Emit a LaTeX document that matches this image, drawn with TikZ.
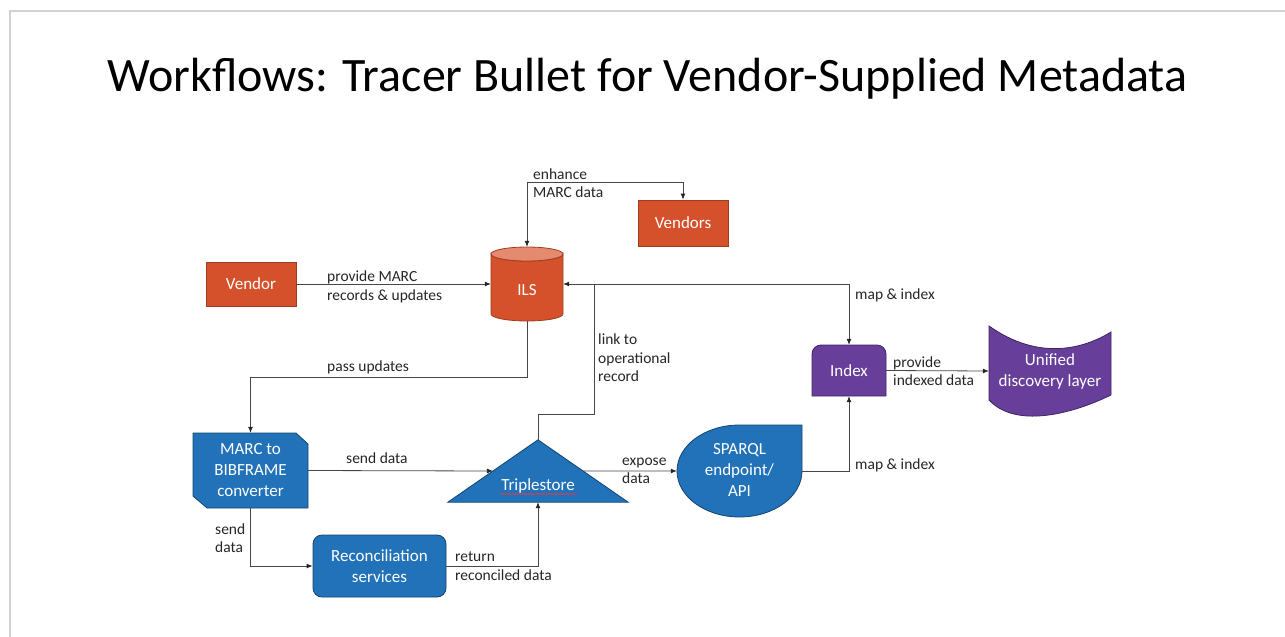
\documentclass[tikz,border=0pt]{standalone}
\usepackage{fontspec}
\setmainfont{Carlito}
\usetikzlibrary{arrows.meta,calc,decorations.pathmorphing}
\definecolor{ora}{RGB}{212,81,43}
\definecolor{oratop}{RGB}{228,138,110}
\definecolor{blu}{RGB}{34,114,185}
\definecolor{pur}{RGB}{104,62,155}
\definecolor{lbltxt}{RGB}{38,38,38}
\definecolor{lncol}{RGB}{70,70,70}
\newcommand\lblfont{\fontsize{15.5}{18.5}\selectfont}
\newcommand\boxfont{\fontsize{17}{21}\selectfont}
\tikzset{
  lbl/.style={font=\lblfont, text=lbltxt, align=left, inner sep=0pt, anchor=west},
  btxt/.style={font=\boxfont, text=white, align=center, inner sep=0pt},
  obox/.style={btxt, draw=ora!75!black, fill=ora, line width=0.8pt},
  shp/.style={line width=0.8pt},
  conn/.style={draw=lncol, line width=0.8pt},
  arr/.style={conn, -{Latex[length=6pt,width=5pt,color=black!85]}},
  darr/.style={conn, {Latex[length=6pt,width=5pt,color=black!85]}-{Latex[length=6pt,width=5pt,color=black!85]}},
}
\begin{document}
\begin{tikzpicture}[x=1pt,y=-1pt]
\useasboundingbox (0,0) rectangle (1285,637);
% slide frame
\draw[black!18, line width=1.5pt] (10,637) -- (10,11) -- (1285,11);
% title
\node[font=\fontsize{48}{57}\selectfont, inner sep=0pt, anchor=base] (title) at (647.5,91) {Workflows: Tracer Bullet for Vendor-Supplied Metadata};

% ---- shapes ----
% Vendor, Vendors
\node[obox, minimum width=90pt, minimum height=44pt] (vendor) at (251,284) {Vendor};
\node[obox, minimum width=90pt, minimum height=46pt] (vendors) at (683,223) {Vendors};

% ILS cylinder
\fill[ora, draw=ora!75!black, shp] (491,254) -- (491,314)
  arc[start angle=180, end angle=0, x radius=36, y radius=7] -- (563,254)
  arc[start angle=0, end angle=180, x radius=36, y radius=7] -- cycle;
\filldraw[fill=oratop, draw=ora!75!black, shp] (527,254) ellipse[x radius=36, y radius=7];
\node[minimum width=72pt, minimum height=74pt, inner sep=0pt] (ils) at (527,284) {};
\node[btxt] (ilstxt) at (527,290) {ILS};

% MARC to BIBFRAME converter
\filldraw[fill=blu, draw=blu!60!black, shp] (193,433) -- (296,433) -- (308,444) -- (308,508) -- (207,508) -- (193,496) -- cycle;
\node[btxt, minimum width=115pt, minimum height=75pt] (conv) at (250.5,470.5) {MARC to\\BIBFRAME\\converter};

% Reconciliation services
\node[btxt, draw=blu!60!black, fill=blu, line width=0.8pt, rounded corners=9pt, minimum width=133pt, minimum height=62pt] (recon) at (379.5,566) {Reconciliation\\services};

% Triplestore
\node[minimum width=180pt, minimum height=62pt, inner sep=0pt] (tri) at (538,471) {};
\filldraw[fill=blu, draw=blu!60!black, shp] (tri.south west) -- (tri.north) -- (tri.south east) -- cycle;
\node[btxt] (tritxt) at (538,486) {Triplestore};
\draw[red!80, line width=0.5pt, decorate, decoration={snake, amplitude=0.7pt, segment length=3pt}] (500,494) -- (577,494);

% SPARQL endpoint
\filldraw[fill=blu, draw=blu!60!black, shp] (802,425) -- (802,471)
  arc[start angle=0, end angle=270, x radius=62.5, y radius=46] -- cycle;
\node[btxt, minimum width=125pt, minimum height=92pt] (sparql) at (739.5,471) {};
\node[btxt] (sparqltxt) at (739.5,470) {SPARQL\\endpoint/\\API};

% Index
\filldraw[fill=pur, draw=pur!60!black, shp] (812,396) -- (812,354)
  arc[start angle=180, end angle=270, radius=9] -- (877,345)
  arc[start angle=270, end angle=360, radius=9] -- (886,396) -- cycle;
\node[btxt, minimum width=74pt, minimum height=51pt] (index) at (849,370.5) {Index};

% Unified discovery layer
\filldraw[fill=pur, draw=pur!60!black, shp] (989,326) .. controls (1040,362) and (1085,348) .. (1111,332)
  -- (1111,395) .. controls (1070,415) and (1015,428) .. (989,400) -- cycle;
\node[btxt, minimum width=122pt, minimum height=76pt] (unified) at (1050,371) {Unified\\discovery layer};

% ---- connectors ----
\draw[arr] (vendor.east) -- (ils.west);
\draw[darr] (ils.north) -- (ils.north |- 0,182) -| (vendors.north);
\draw[darr] (index.north) |- (ils.east);
\coordinate (lk) at (594,284);
\draw[conn] (tri.north) -- (538,414) -| (lk);
\draw[arr] (ils.south) -- (527,377) -| (conv.north);
\draw[arr] (conv.east) -- ($(tri.south west)!0.5!(tri.north)$);
\draw[arr] (conv.south) |- (recon.west);
\draw[arr] (recon.east) -| (tri.south);
\draw[arr] ($(tri.south east)!0.5!(tri.north)$) -- (sparql.west);
\draw[arr] (sparql.east) -| (index.south);
\draw[arr] (index.east) -- (unified.west);

% ---- labels ----
\node[lbl] (l1) at (533,183) {enhance\\MARC data};
\node[lbl] (l2) at (327,287) {provide MARC\\records \& updates};
\node[lbl] (l3) at (855,295) {map \& index};
\node[lbl] (l4) at (598,358) {link to\\operational\\record};
\node[lbl] (l5) at (327,367) {pass updates};
\node[lbl] (l6) at (893,371) {provide\\indexed data};
\node[lbl] (l7) at (346,458) {send data};
\node[lbl] (l8) at (622,471) {expose\\data};
\node[lbl] (l9) at (855,465) {map \& index};
\node[lbl] (l10) at (215,538) {send\\data};
\node[lbl] (l11) at (455,566) {return\\reconciled data};
\end{tikzpicture}
\end{document}
